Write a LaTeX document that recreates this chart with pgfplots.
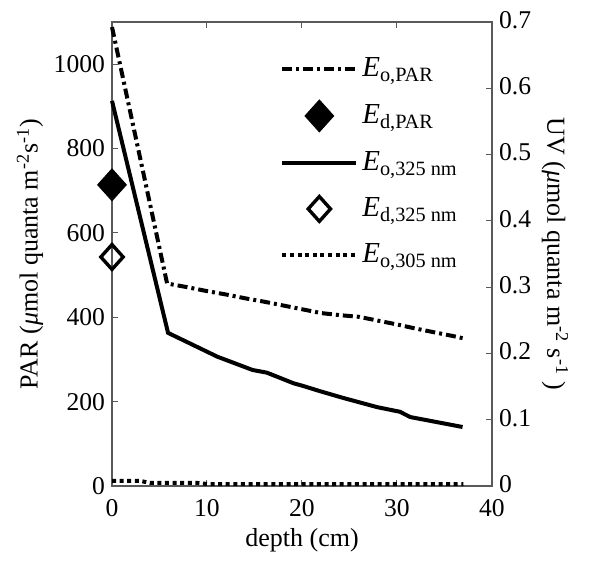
\documentclass[border=0pt]{standalone}
\usepackage{fontspec}
\setmainfont{Liberation Serif}
\usepackage{pgfplots}
\pgfplotsset{compat=1.18}
\pgfplotsset{
  lineleg/.style={legend image code/.code={\draw[##1] (0pt,0pt) -- (37pt,0pt);}},
  markleg/.style={legend image code/.code={\draw[##1] plot coordinates {(18.5pt,0pt)};}},
}
\begin{document}
\begin{tikzpicture}
\useasboundingbox (-56pt,-37.5pt) rectangle (244pt,243pt);
\pgfplotsset{
  common/.style={
    width=190pt, height=232pt, scale only axis,
    xmin=0, xmax=40, clip=false,
    axis line style={black!65, line width=0.6pt},
    every tick/.style={black!65, line width=0.5pt},
    major tick length=3pt,
    tick align=inside,
    ticklabel style={font=\fontsize{12.8}{14}\selectfont, black},
    /pgf/number format/assume math mode=true,
    /pgf/number format/1000 sep={},
  },
}
\begin{axis}[common,
  ymin=0, ymax=1100,
  xtick={0,10,20,30,40}, ytick={0,200,400,600,800,1000},
  ytick pos=left,
  xticklabel style={yshift=-3.2pt},
  xlabel={depth (cm)},
  ylabel={PAR (\textit{μ}mol quanta m\textsuperscript{-2}s\textsuperscript{-1})},
  every axis x label/.style={at={(axis description cs:0.5,-0.116)}, anchor=center, font=\fontsize{13}{15}\selectfont},
  every axis y label/.style={at={(axis description cs:-0.216,0.5)}, anchor=center, rotate=90, font=\fontsize{13}{15}\selectfont},
]
\addplot[black, line width=2pt, dash pattern=on 5pt off 2pt on 1.5pt off 2pt] coordinates {
 (0,1088) (5.8,480) (8,471) (10,462) (12,454) (14,445) (16,437) (18,428) (20,419)
 (22,410) (24,405) (26,401) (28,392) (30,383) (32,373) (34,364) (36,355) (37,350)
};
\addplot[only marks, mark=diamond*, mark size=8pt, black, mark options={xscale=1.2, line width=0.4pt}] coordinates {(0,714)};
\end{axis}
\begin{axis}[common,
  ymin=0, ymax=0.7,
  axis x line=none, axis y line*=right,
  ytick={0,0.1,0.2,0.3,0.4,0.5,0.6,0.7},
  ytick pos=right, yticklabel pos=right,
  yticklabel style={yshift=1pt},
  ylabel={UV (\textit{μ}mol quanta m\textsuperscript{-2} s\textsuperscript{-1} )},
  every axis y label/.style={at={(axis description cs:1.166,0.5)}, anchor=center, rotate=-90, font=\fontsize{13}{15}\selectfont},
  legend style={at={(axis description cs:0.442,0.932)}, anchor=north west, draw=none, fill=none,
    font=\fontsize{14.5}{16}\selectfont, row sep=8pt, inner sep=0pt},
  legend cell align=left,
]
\addlegendimage{black, line width=2pt, dash pattern=on 5pt off 2pt on 1.5pt off 2pt, lineleg}
\addlegendentry{\textit{E}\textsubscript{o,PAR}}
\addlegendimage{only marks, mark=diamond*, mark size=8pt, black, mark options={xscale=1.2, line width=0.4pt}, markleg}
\addlegendentry{\textit{E}\textsubscript{d,PAR}}
\addplot[black, line width=2pt, lineleg] coordinates {
 (0,0.581) (5.9,0.231) (8.5,0.213) (11.1,0.195) (14.8,0.175) (16.3,0.171) (19.1,0.155)
 (20.1,0.151) (21.9,0.143) (24.3,0.133) (27.9,0.119) (30.3,0.112) (31.4,0.104) (36.9,0.089)
};
\addlegendentry{\textit{E}\textsubscript{o,325 nm}}
\addplot[only marks, mark=diamond, mark size=6.2pt, black, mark options={xscale=1.2, line width=1.7pt, solid}, markleg] coordinates {(0,0.3455)};
\addlegendentry{\textit{E}\textsubscript{d,325 nm}}
\addplot[black, line width=2pt, dash pattern=on 2pt off 1.8pt, lineleg] coordinates {
 (0,0.0076) (3,0.0076) (4,0.0046) (9,0.0046) (10,0.003) (37,0.003)
};
\addlegendentry{\textit{E}\textsubscript{o,305 nm}}
\end{axis}
\end{tikzpicture}
\end{document}
